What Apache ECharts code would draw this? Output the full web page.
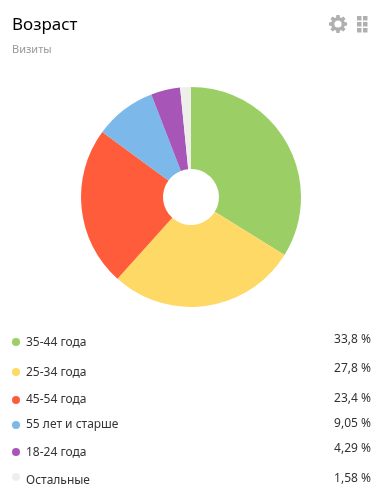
<!DOCTYPE html>
<html>
<head>
<meta charset="utf-8">
<style>
  html, body { margin: 0; padding: 0; background: #fff; }
  #chart { width: 383px; height: 496px; }
</style>
<script src="https://cdn.jsdelivr.net/npm/echarts@6/dist/echarts.min.js"></script>
</head>
<body>
<div id="chart"></div>
<script>
const categories = ["35-44 года", "25-34 года", "45-54 года", "55 лет и старше", "18-24 года", "Остальные"];
const shares     = [33.8, 27.8, 23.4, 9.05, 4.29, 1.58];
const shareText  = ["33,8 %", "27,8 %", "23,4 %", "9,05 %", "4,29 %", "1,58 %"];
const colors     = ["#9bcf66", "#ffd966", "#ff5c3b", "#7cb8ea", "#a855b8", "#eeeeea"];

// rows in the original are not evenly spaced
const labelY = [343, 373, 400, 425, 453, 481];
const valueY = [340, 369, 399, 424, 449, 479];
const dotY   = [342, 372, 400, 425, 452, 477];

const FONT = '"Noto Sans", "Open Sans", sans-serif';

// gear outline: 8 teeth around (338, 24)
function gearPoints(cx, cy) {
  const pts = [];
  for (let i = 0; i < 8; i++) {
    const a = i * Math.PI / 4;
    for (const [da, r] of [[-0.3, 6.8], [-0.17, 9.2], [0.17, 9.2], [0.3, 6.8]]) {
      pts.push([cx + r * Math.sin(a + da), cy - r * Math.cos(a + da)]);
    }
  }
  return pts;
}

const graphics = [];
categories.forEach((c, i) => {
  graphics.push(
    { type: "circle", shape: { cx: 16, cy: dotY[i], r: 4 }, style: { fill: colors[i] } },
    { type: "text", style: { x: 26, y: labelY[i], text: c, font: `12px ${FONT}`, fill: "#333", textVerticalAlign: "middle" } },
    { type: "text", style: { x: 371, y: valueY[i], text: shareText[i], font: `12px ${FONT}`, fill: "#333", textAlign: "right", textVerticalAlign: "middle" } }
  );
});

graphics.push(
  { type: "polygon", shape: { points: gearPoints(338, 24) }, style: { fill: "#b0b0b0" } },
  { type: "circle", shape: { cx: 338, cy: 24, r: 3.6 }, style: { fill: "#fff" } }
);
// grid icon, 2 x 3 squares
for (let col = 0; col < 2; col++) {
  for (let row = 0; row < 3; row++) {
    graphics.push({
      type: "rect",
      shape: { x: 357 + col * 6, y: 16 + row * 6, width: 4.5, height: 4.5 },
      style: { fill: "#b0b0b0" },
    });
  }
}

const chart = echarts.init(document.getElementById("chart"), null, { renderer: "canvas" });
chart.setOption({
  animation: false,
  backgroundColor: "#fff",
  title: [
    { text: "Возраст", left: 7, top: 12, textStyle: { fontFamily: FONT, fontSize: 17, fontWeight: "normal", color: "#000" } },
    { text: "Визиты", left: 7, top: 39, textStyle: { fontFamily: FONT, fontSize: 11, fontWeight: "normal", color: "#999" } },
  ],
  color: colors,
  series: [{
    type: "pie",
    center: [191, 197],
    radius: [28, 110],
    startAngle: 90,
    clockwise: true,
    label: { show: false },
    labelLine: { show: false },
    data: categories.map((c, i) => ({ name: c, value: shares[i] })),
  }],
  graphic: graphics,
});
</script>
</body>
</html>
